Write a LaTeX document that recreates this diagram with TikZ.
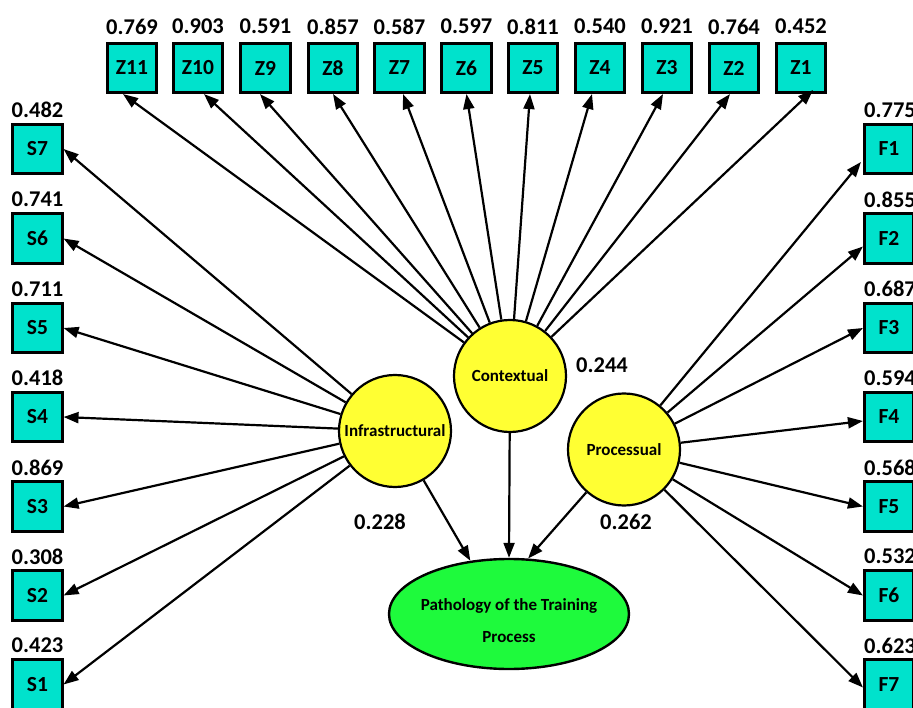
\documentclass[tikz,border=0pt]{standalone}
\usepackage{fontspec}
\setmainfont{Carlito}[BoldFont={Carlito Bold}]
\usetikzlibrary{arrows.meta,shapes.geometric,calc}
\definecolor{boxc}{RGB}{0,226,204}
\definecolor{ylw}{RGB}{255,255,51}
\definecolor{grn}{RGB}{30,250,60}
\begin{document}
\begin{tikzpicture}[x=1pt,y=-1pt,
  ind/.style={draw,line width=2.6pt,fill=boxc,minimum size=49.5pt,inner sep=0pt,font=\fontsize{21.5}{24}\selectfont\bfseries},
  val/.style={inner sep=0pt,font=\fontsize{22.5}{24}\selectfont\bfseries},
  lat/.style={circle,draw,line width=2.2pt,fill=ylw,minimum size=112pt,inner sep=0pt,font=\fontsize{17}{20}\selectfont\bfseries},
  arr/.style={line width=2.2pt,-{Triangle[length=15pt,width=11pt]}}]
\useasboundingbox (0,0) rectangle (913,708);
% top indicators
\foreach \n/\x/\v in {11/132/0.769,10/198/0.903,9/265.5/0.591,8/333/0.857,7/399.5/0.587,6/466.5/0.597,5/533/0.811,4/600/0.540,3/667/0.921,2/734/0.764,1/801/0.452}{
  \node[ind] (Z\n) at (\x,68) {Z\n};
  \node[val] (zv\n) at (\x,26.5) {\v};
}
% left indicators
\foreach \n/\y/\v in {7/149/0.482,6/238.5/0.741,5/328/0.711,4/417/0.418,3/506.5/0.869,2/595.5/0.308,1/684.5/0.423}{
  \node[ind] (S\n) at (37.5,\y) {S\n};
  \node[val] (sv\n) at (37.5,\y-39) {\v};
}
% right indicators
\foreach \n/\y/\v in {1/149/0.775,2/238.5/0.855,3/328/0.687,4/417/0.594,5/506.5/0.568,6/595.5/0.532,7/684.5/0.623}{
  \node[ind] (F\n) at (889,\y) {F\n};
  \node[val] (fv\n) at (890,\y-39) {\v};
}
% latent variables
\node[lat] (I) at (395,431) {Infrastructural};
\node[lat] (C) at (510,376) {Contextual};
\node[lat] (P) at (624,449.5) {Processual};
\node[ellipse,draw,line width=2.4pt,fill=grn,minimum width=240pt,minimum height=110pt] (E) at (509,614) {};
\node[align=center,inner sep=0pt,font=\fontsize{17}{32}\selectfont\bfseries] (Et) at (509,621) {Pathology of the Training\\Process};
% coefficients
\node[val] (cC) at (602,365) {0.244};
\node[val] (cI) at (380,522) {0.228};
\node[val] (cP) at (626,522) {0.262};
% arrows from Contextual
\foreach \n/\dx in {11/-9,10/6,9/-5.5,8/0,7/3.5,6/0,5/-3,4/-8,3/-4,2/-4}{
  \draw[arr] (C) -- ($(Z\n.south)+(\dx,0)$);
}
\draw[arr] (C) -- ($(Z1.south)+(12,-4)$);
% arrows from Infrastructural
\foreach \n in {1,...,7}{
  \draw[arr] (I) -- (S\n.east);
}
% arrows from Processual
\draw[arr] (P) -- ($(F1.west)+(-2,13)$);
\draw[arr] (P) -- ($(F2.west)+(0,8)$);
\draw[arr] (P) -- (F3.west);
\draw[arr] (P) -- ($(F4.west)+(0,4)$);
\draw[arr] (P) -- (F5.west);
\draw[arr] (P) -- (F6.west);
\draw[arr] (P) -- ($(F7.west)+(0,3)$);
% to dependent
\draw[arr] (I) -- (E.126);
\draw[arr] (C) -- (E.north);
\draw[arr] (P) -- (E.71);
\end{tikzpicture}
\end{document}
